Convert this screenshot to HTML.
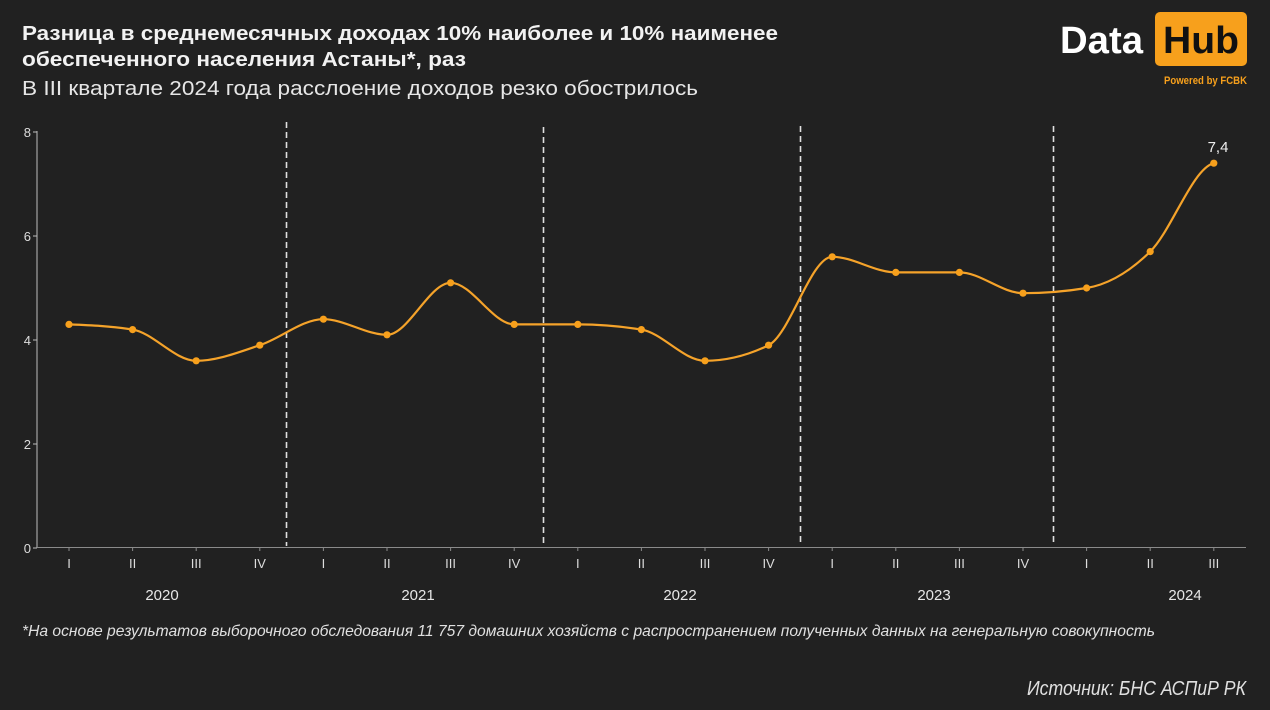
<!DOCTYPE html>
<html>
<head>
<meta charset="utf-8">
<style>
  html,body{margin:0;padding:0;background:#212121;}
  svg{display:block;}
</style>
</head>
<body>
<svg width="1270" height="710" viewBox="0 0 1270 710" xmlns="http://www.w3.org/2000/svg">
  <rect x="0" y="0" width="1270" height="710" fill="#212121"/>

  <!-- Titles -->
  <text x="22" y="40" font-family="Liberation Sans, sans-serif" font-size="20" font-weight="bold" fill="#f2f2f2" textLength="756" lengthAdjust="spacingAndGlyphs">Разница в среднемесячных доходах 10% наиболее и 10% наименее</text>
  <text x="22" y="66" font-family="Liberation Sans, sans-serif" font-size="20" font-weight="bold" fill="#f2f2f2" textLength="444" lengthAdjust="spacingAndGlyphs">обеспеченного населения Астаны*, раз</text>
  <text x="22" y="95" font-family="Liberation Sans, sans-serif" font-size="20" fill="#e6e6e6" textLength="676" lengthAdjust="spacingAndGlyphs">В III квартале 2024 года расслоение доходов резко обострилось</text>

  <!-- Logo -->
  <text x="1060" y="53" font-family="Liberation Sans, sans-serif" font-size="38" font-weight="bold" fill="#ffffff" textLength="83" lengthAdjust="spacingAndGlyphs">Data</text>
  <rect x="1155" y="12" width="92" height="54" rx="5" ry="5" fill="#f7a01c"/>
  <text x="1163" y="53" font-family="Liberation Sans, sans-serif" font-size="38" font-weight="bold" fill="#111111" textLength="76" lengthAdjust="spacingAndGlyphs">Hub</text>
  <text x="1164" y="84" font-family="Liberation Sans, sans-serif" font-size="11" font-weight="bold" fill="#f7a01c" textLength="83" lengthAdjust="spacingAndGlyphs">Powered by FCBK</text>

  <!-- Axes -->
  <line x1="37" y1="131" x2="37" y2="547.5" stroke="#bdbdbd" stroke-width="1"/>
  <line x1="37" y1="547.5" x2="1246" y2="547.5" stroke="#8a8a8a" stroke-width="1"/>
  <g stroke="#bdbdbd" stroke-width="1">
    <line x1="33" y1="132" x2="37" y2="132"/>
    <line x1="33" y1="236" x2="37" y2="236"/>
    <line x1="33" y1="340" x2="37" y2="340"/>
    <line x1="33" y1="444" x2="37" y2="444"/>
    <line x1="33" y1="548" x2="37" y2="548"/>
  </g>
  <g font-family="Liberation Sans, sans-serif" font-size="13" fill="#dddddd" text-anchor="end">
    <text x="31" y="137">8</text>
    <text x="31" y="241">6</text>
    <text x="31" y="345">4</text>
    <text x="31" y="449">2</text>
    <text x="31" y="553">0</text>
  </g>

  <!-- x ticks -->
  <g stroke="#8a8a8a" stroke-width="1">
    <line x1="69" y1="547" x2="69" y2="551"/>
    <line x1="132.6" y1="547" x2="132.6" y2="551"/>
    <line x1="196.2" y1="547" x2="196.2" y2="551"/>
    <line x1="259.8" y1="547" x2="259.8" y2="551"/>
    <line x1="323.4" y1="547" x2="323.4" y2="551"/>
    <line x1="387" y1="547" x2="387" y2="551"/>
    <line x1="450.6" y1="547" x2="450.6" y2="551"/>
    <line x1="514.2" y1="547" x2="514.2" y2="551"/>
    <line x1="577.8" y1="547" x2="577.8" y2="551"/>
    <line x1="641.4" y1="547" x2="641.4" y2="551"/>
    <line x1="705" y1="547" x2="705" y2="551"/>
    <line x1="768.6" y1="547" x2="768.6" y2="551"/>
    <line x1="832.2" y1="547" x2="832.2" y2="551"/>
    <line x1="895.8" y1="547" x2="895.8" y2="551"/>
    <line x1="959.4" y1="547" x2="959.4" y2="551"/>
    <line x1="1023" y1="547" x2="1023" y2="551"/>
    <line x1="1086.6" y1="547" x2="1086.6" y2="551"/>
    <line x1="1150.2" y1="547" x2="1150.2" y2="551"/>
    <line x1="1213.8" y1="547" x2="1213.8" y2="551"/>
  </g>
  <g font-family="Liberation Sans, sans-serif" font-size="13" fill="#dddddd" text-anchor="middle">
    <text x="69" y="568">I</text>
    <text x="132.6" y="568">II</text>
    <text x="196.2" y="568">III</text>
    <text x="259.8" y="568">IV</text>
    <text x="323.4" y="568">I</text>
    <text x="387" y="568">II</text>
    <text x="450.6" y="568">III</text>
    <text x="514.2" y="568">IV</text>
    <text x="577.8" y="568">I</text>
    <text x="641.4" y="568">II</text>
    <text x="705" y="568">III</text>
    <text x="768.6" y="568">IV</text>
    <text x="832.2" y="568">I</text>
    <text x="895.8" y="568">II</text>
    <text x="959.4" y="568">III</text>
    <text x="1023" y="568">IV</text>
    <text x="1086.6" y="568">I</text>
    <text x="1150.2" y="568">II</text>
    <text x="1213.8" y="568">III</text>
  </g>
  <g font-family="Liberation Sans, sans-serif" font-size="15" fill="#e6e6e6" text-anchor="middle">
    <text x="162" y="600">2020</text>
    <text x="418" y="600">2021</text>
    <text x="680" y="600">2022</text>
    <text x="934" y="600">2023</text>
    <text x="1185" y="600">2024</text>
  </g>

  <!-- Dashed separators -->
  <g stroke="#e0e0e0" stroke-width="1.6" stroke-dasharray="6,4">
    <line x1="286.5" y1="122" x2="286.5" y2="546"/>
    <line x1="543.5" y1="127" x2="543.5" y2="546"/>
    <line x1="800.5" y1="126" x2="800.5" y2="546"/>
    <line x1="1053.5" y1="126" x2="1053.5" y2="546"/>
  </g>

  <!-- Series line -->
  <path fill="none" stroke="#f5a32a" stroke-width="2.2" stroke-linejoin="round" stroke-linecap="round"
    d="M69,324.4 C90.2,325.27 111.4,326.13 132.6,329.6
       C153.8,333.07 175,360.8 196.2,360.8
       C217.4,360.8 238.6,352.13 259.8,345.2
       C281,338.27 302.2,319.2 323.4,319.2
       C344.6,319.2 365.8,334.8 387,334.8
       C408.2,334.8 429.4,282.8 450.6,282.8
       C471.8,282.8 493,324.4 514.2,324.4
       C535.4,324.4 556.6,324.4 577.8,324.4
       C599,324.4 620.2,326.13 641.4,329.6
       C662.6,333.07 683.8,360.8 705,360.8
       C726.2,360.8 747.4,355.6 768.6,345.2
       C789.8,334.8 811,256.8 832.2,256.8
       C853.4,256.8 874.6,272.4 895.8,272.4
       C917,272.4 938.2,272.4 959.4,272.4
       C980.6,272.4 1001.8,293.2 1023,293.2
       C1044.2,293.2 1065.4,291.47 1086.6,288
       C1107.8,284.53 1129,272.4 1150.2,251.6
       C1171.4,230.8 1192.6,168.4 1213.8,163.2"/>

  <!-- Points -->
  <g fill="#f7a01c">
    <circle cx="69" cy="324.4" r="3.6"/>
    <circle cx="132.6" cy="329.6" r="3.6"/>
    <circle cx="196.2" cy="360.8" r="3.6"/>
    <circle cx="259.8" cy="345.2" r="3.6"/>
    <circle cx="323.4" cy="319.2" r="3.6"/>
    <circle cx="387" cy="334.8" r="3.6"/>
    <circle cx="450.6" cy="282.8" r="3.6"/>
    <circle cx="514.2" cy="324.4" r="3.6"/>
    <circle cx="577.8" cy="324.4" r="3.6"/>
    <circle cx="641.4" cy="329.6" r="3.6"/>
    <circle cx="705" cy="360.8" r="3.6"/>
    <circle cx="768.6" cy="345.2" r="3.6"/>
    <circle cx="832.2" cy="256.8" r="3.6"/>
    <circle cx="895.8" cy="272.4" r="3.6"/>
    <circle cx="959.4" cy="272.4" r="3.6"/>
    <circle cx="1023" cy="293.2" r="3.6"/>
    <circle cx="1086.6" cy="288" r="3.6"/>
    <circle cx="1150.2" cy="251.6" r="3.6"/>
    <circle cx="1213.8" cy="163.2" r="3.6"/>
  </g>
  <text x="1218" y="152" font-family="Liberation Sans, sans-serif" font-size="15" fill="#eeeeee" text-anchor="middle">7,4</text>

  <!-- Footnote & source -->
  <text x="22" y="636" font-family="Liberation Sans, sans-serif" font-size="16" font-style="italic" fill="#e0e0e0" textLength="1133" lengthAdjust="spacingAndGlyphs">*На основе результатов выборочного обследования 11 757 домашних хозяйств с распространением полученных данных на генеральную совокупность</text>
  <text x="1027" y="695" font-family="Liberation Sans, sans-serif" font-size="20" font-style="italic" fill="#e0e0e0" textLength="219" lengthAdjust="spacingAndGlyphs">Источник: БНС АСПиР РК</text>
</svg>
</body>
</html>
